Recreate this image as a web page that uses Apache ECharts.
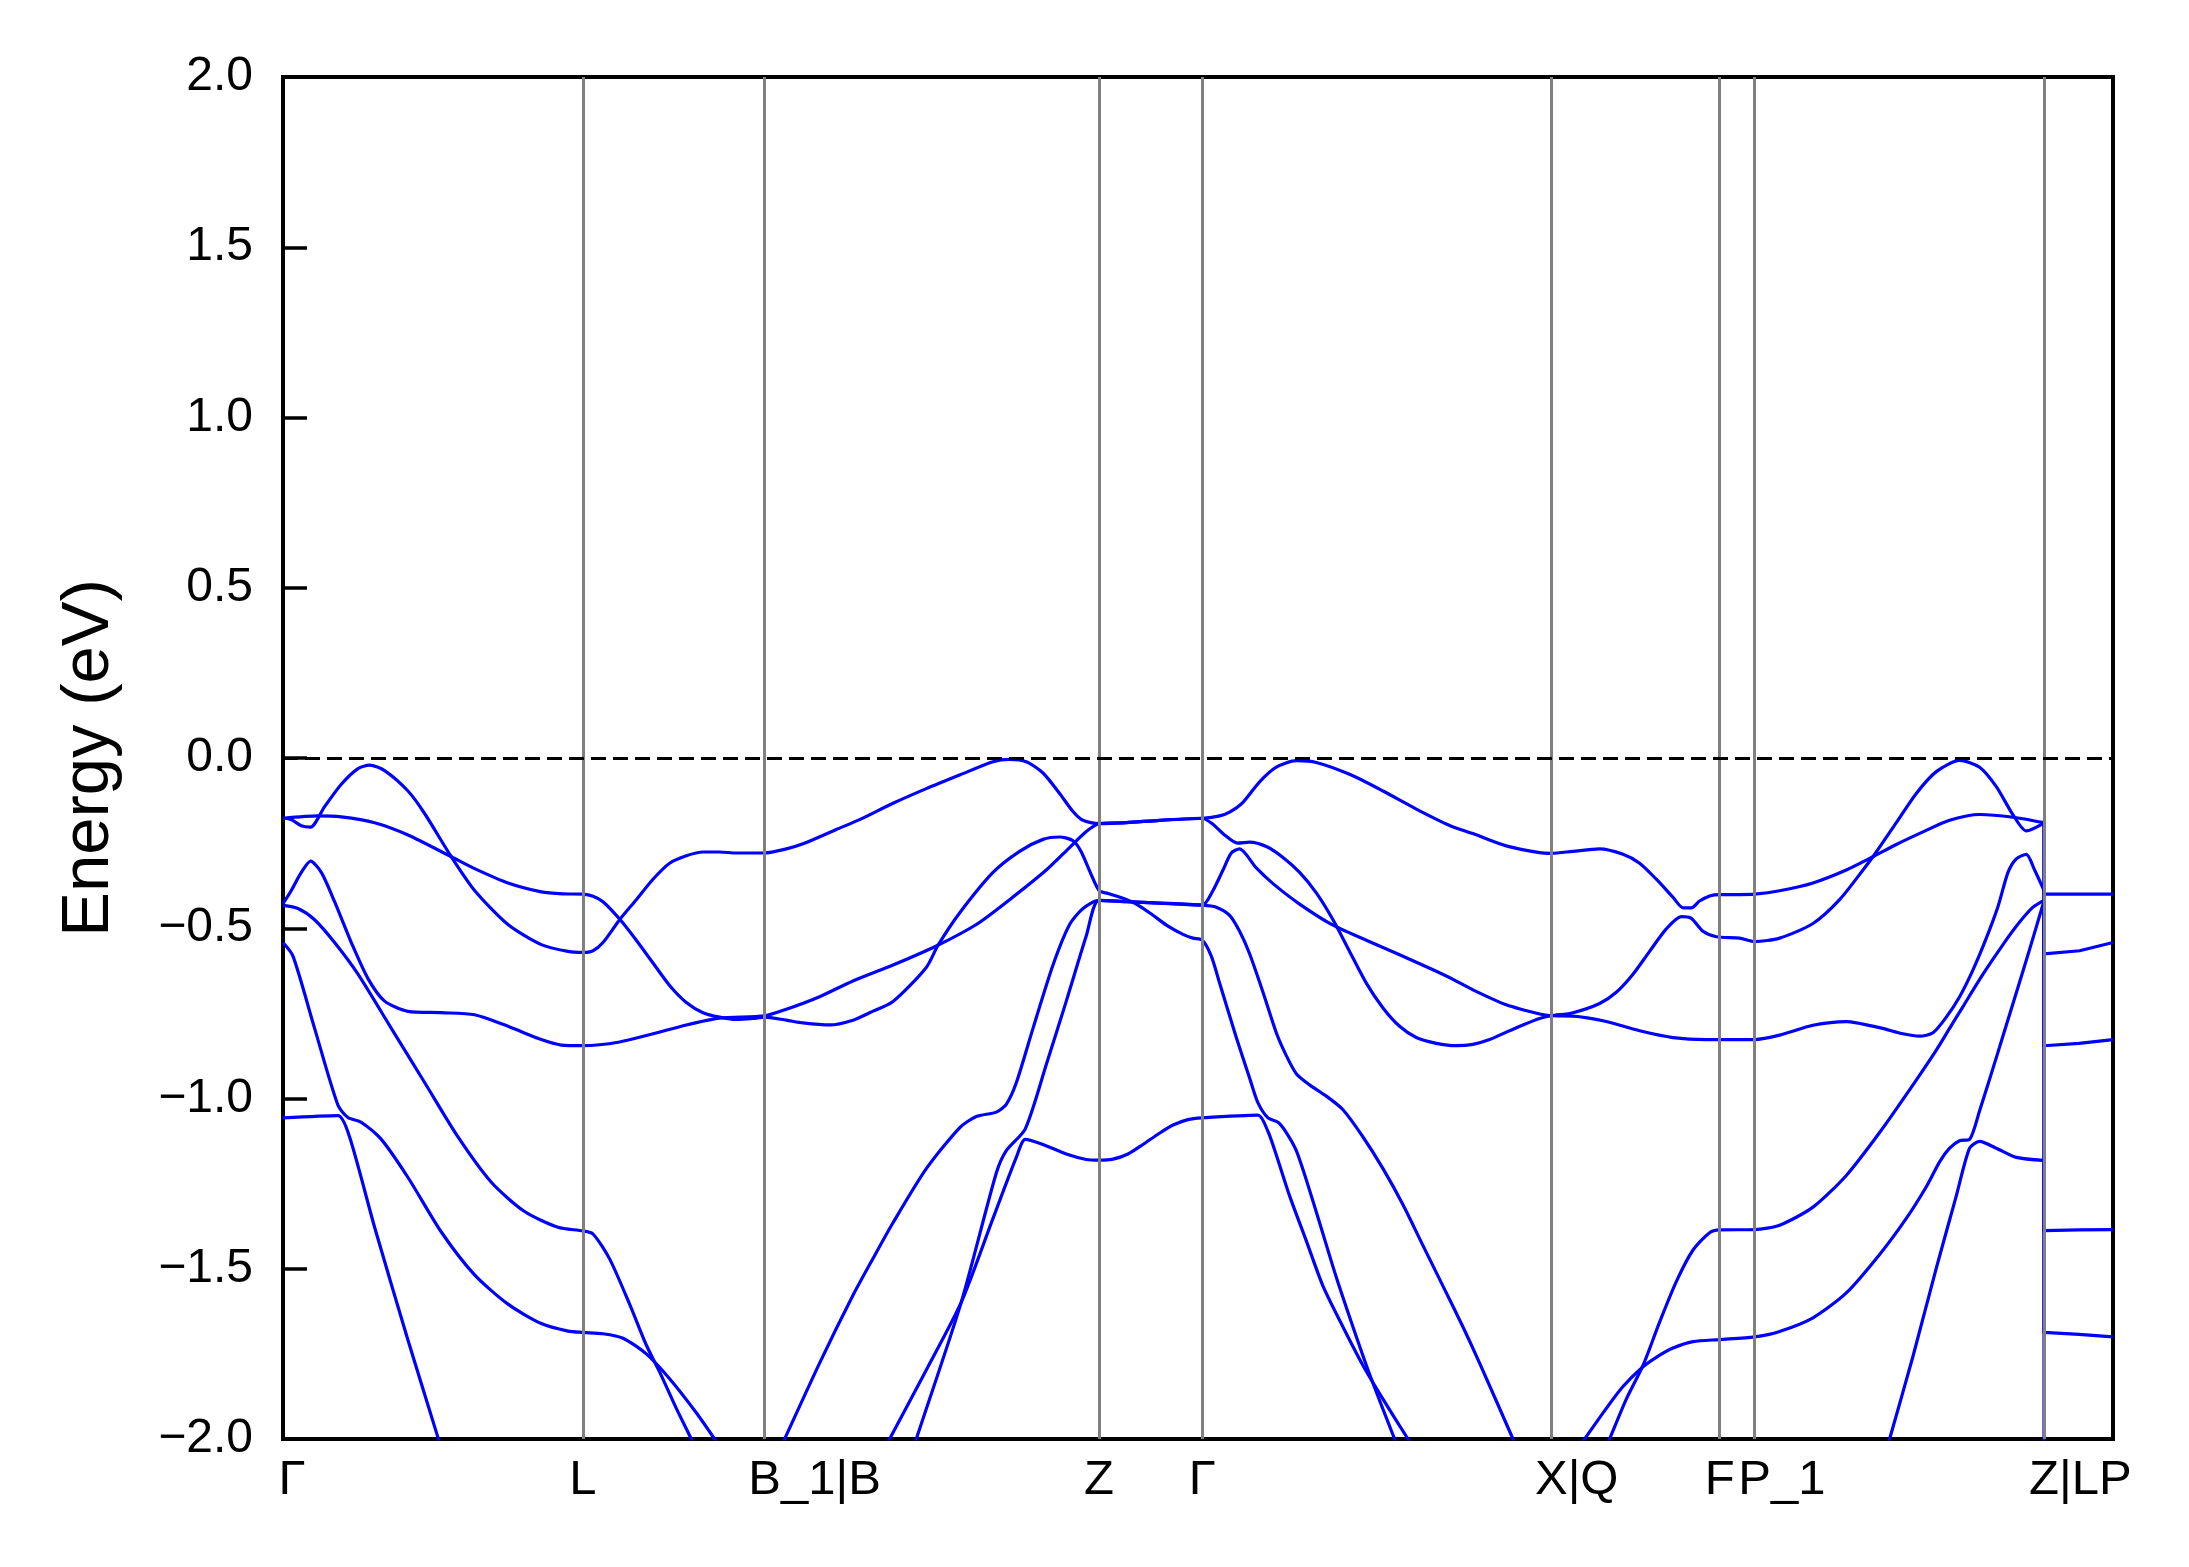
<!DOCTYPE html>
<html><head><meta charset="utf-8">
<script src="https://cdn.jsdelivr.net/npm/echarts@6/dist/echarts.min.js"></script>
<style>html,body{margin:0;padding:0;background:#fff}#c{width:2189px;height:1567px}</style>
</head><body><div id="c"></div><script>
// k-path high-symmetry positions and labels
const kTicks = [0, 300, 481.6, 815.9, 919.3, 1268.3, 1436.6, 1471.6, 1761];
const kLabels = ['Γ', 'L', 'B_1|B', 'Z', 'Γ', 'X|Q', 'F', 'P_1', 'Z|LP'];
const kMax = 1830;
const yTicks = [-2, -1.5, -1, -0.5, 0, 0.5, 1, 1.5, 2];
const fermiLevel = 0;

// bands: [k, E(eV)]
const bandA = [[0,-0.177],[8.3,-0.181],[18.3,-0.199],[27.6,-0.203],[41.6,-0.143],[58.3,-0.077],[75,-0.031],[86.6,-0.021],[101.6,-0.037],[125,-0.097],[141.6,-0.163],[168.3,-0.290],[191.6,-0.389],[225,-0.489],[258.3,-0.548],[285,-0.568],[300,-0.571],
[310,-0.566],[320,-0.542],[336.6,-0.475],[353.3,-0.416],[370,-0.356],[386.6,-0.309],[403.3,-0.287],[420,-0.276],[436.6,-0.276],[453.3,-0.279],[481.6,-0.279],[503.3,-0.267],[520,-0.252],[553.3,-0.210],[576.6,-0.181],[610,-0.133],[643.3,-0.090],[676.6,-0.050],[710,-0.011],[726.6,-0.004],[743.3,-0.011],[760,-0.044],[776.6,-0.104],[790,-0.157],[800,-0.183],[815.9,-0.193],[843.3,-0.190],[876.6,-0.183],[919.3,-0.177],
[936.6,-0.170],[946.6,-0.159],[960,-0.130],[976.6,-0.070],[993.3,-0.027],[1013.3,-0.008],[1033.3,-0.013],[1066.6,-0.048],[1100,-0.097],[1133.3,-0.150],[1166.6,-0.198],[1190,-0.222],[1223.3,-0.258],[1256.6,-0.278],[1268.3,-0.280],[1290,-0.274],[1316.6,-0.267],[1340,-0.283],[1356.6,-0.309],[1373.3,-0.356],[1390,-0.409],[1400,-0.440],[1408.3,-0.440],[1416.6,-0.420],[1426.6,-0.405],[1436.6,-0.401],[1456.6,-0.401],[1471.6,-0.400],
[1496.6,-0.390],[1530,-0.367],[1563.3,-0.329],[1590,-0.290],[1613.3,-0.254],[1640,-0.217],[1666.6,-0.183],[1696.6,-0.166],[1730,-0.174],[1761,-0.190],[1761,-0.400],[1795,-0.400],[1830,-0.400]];

const bandB = [[0,-0.177],[35,-0.170],[58.3,-0.173],[91.6,-0.190],[125,-0.226],[168.3,-0.290],[191.6,-0.325],[225,-0.367],[258.3,-0.393],[280,-0.399],[300,-0.400],
[310,-0.406],[320,-0.422],[336.6,-0.473],[353.3,-0.535],[370,-0.602],[386.6,-0.668],[403.3,-0.718],[420,-0.748],[436.6,-0.761],[453.3,-0.768],[470,-0.765],[481.6,-0.761],[503.3,-0.770],[520,-0.778],[546.6,-0.784],[570,-0.770],[586.6,-0.748],[610,-0.715],[643.3,-0.615],[655,-0.550],[676.6,-0.455],[710,-0.336],[736.6,-0.274],[760,-0.239],[776.6,-0.232],[790,-0.243],[798.3,-0.276],[815.9,-0.389],
[825,-0.398],[840,-0.412],[855,-0.432],[870,-0.462],[885,-0.494],[900,-0.518],[910,-0.529],[919.3,-0.535],
[928.3,-0.582],[936.6,-0.661],[953.3,-0.821],[966.6,-0.940],[975,-1.013],[985,-1.057],[995,-1.070],[1003.3,-1.100],[1013.3,-1.153],[1023.3,-1.239],[1036.6,-1.365],[1053.3,-1.525],[1070,-1.671],[1086.6,-1.810],[1111.6,-2.000],[1116,-2.03]];

const bandC = [[0,-0.428],[8.3,-0.389],[18.3,-0.336],[27.6,-0.303],[38.3,-0.336],[51.6,-0.422],[68.3,-0.542],[85,-0.648],[101.6,-0.714],[125,-0.744],[158.3,-0.748],[191.6,-0.754],[225,-0.788],[258.3,-0.827],[278.3,-0.843],[300,-0.845],
[336.6,-0.834],[370,-0.810],[403.3,-0.784],[436.6,-0.764],[481.6,-0.757],[503.3,-0.738],[536.6,-0.701],[570,-0.655],[610,-0.608],[653.3,-0.552],[693.3,-0.489],[726.6,-0.416],[763.3,-0.329],[786.6,-0.263],[803.3,-0.216],[815.9,-0.193],
[843.3,-0.190],[876.6,-0.183],[919.3,-0.177],[929.6,-0.194],[941.6,-0.226],[954.6,-0.250],[966.6,-0.247],[983.3,-0.260],[1000,-0.292],[1016.6,-0.336],[1033.3,-0.396],[1050,-0.475],[1066.6,-0.568],[1083.3,-0.661],[1100,-0.734],[1116.6,-0.788],[1133.3,-0.821],[1153.3,-0.838],[1173.3,-0.845],[1190,-0.841],[1206.6,-0.827],[1223.3,-0.805],[1240,-0.784],[1256.6,-0.765],[1268.3,-0.757],
[1290,-0.748],[1316.6,-0.721],[1333.3,-0.688],[1350,-0.635],[1366.6,-0.568],[1383.3,-0.502],[1398.3,-0.466],[1408.3,-0.471],[1420,-0.509],[1433.3,-0.525],[1456.6,-0.529],[1471.6,-0.539],
[1496.6,-0.529],[1530,-0.486],[1556.6,-0.416],[1580,-0.329],[1593.3,-0.276],[1613.3,-0.190],[1633.3,-0.104],[1653.3,-0.040],[1676.6,-0.007],[1696.6,-0.027],[1713.3,-0.084],[1730,-0.167],[1743.3,-0.214],[1761,-0.191],[1761,-0.575],[1796.6,-0.566],[1830,-0.542]];

const bandD = [[0,-0.433],[15,-0.442],[31.6,-0.475],[51.6,-0.542],[75,-0.635],[108.3,-0.794],[141.6,-0.953],[175,-1.113],[208.3,-1.246],[241.6,-1.332],[275,-1.378],[300,-1.389],[310,-1.398],[326.6,-1.471],[346.6,-1.604],[363.3,-1.724],[376.6,-1.803],[393.3,-1.910],[408.3,-2.000],[412,-2.03]];

const bandE1 = [[0,-0.542],[10,-0.582],[31.6,-0.794],[55,-1.020],[65,-1.056],[78.3,-1.070],[98.3,-1.120],[125,-1.232],[158.3,-1.392],[191.6,-1.518],[225,-1.604],[258.3,-1.661],[285,-1.683],[300,-1.687],[320,-1.691],[340,-1.704],[363.3,-1.750],[386.6,-1.823],[413.3,-1.923],[431.6,-2.000],[436,-2.02]];

const bandE2 = [[0,-1.057],[55,-1.050],[66.6,-1.113],[91.6,-1.378],[125,-1.710],[155,-1.996],[158,-2.03]];

const bandF = [[498,-2.023],[501.6,-2.000],[536.6,-1.777],[570,-1.578],[590,-1.470],[610,-1.365],[643.3,-1.206],[676.6,-1.086],[693.3,-1.053],[713.3,-1.040],[723.3,-1.017],[733.3,-0.954],[750,-0.794],[770,-0.608],[786.6,-0.489],[800,-0.442],[815.9,-0.418],[843.3,-0.422],[876.6,-0.426],[919.3,-0.432],[933.3,-0.438],[946.6,-0.462],[956.6,-0.509],[966.6,-0.575],[980,-0.688],[993.3,-0.807],[1003.3,-0.874],[1013.3,-0.927],[1026.6,-0.960],[1043.3,-0.993],[1060,-1.033],[1080,-1.113],[1100,-1.206],[1120,-1.312],[1140,-1.432],[1160,-1.551],[1180,-1.671],[1196.6,-1.777],[1230,-2.000],[1234,-2.027]];

const bandG1 = [[630,-2.03],[633.3,-2.000],[678.3,-1.598],[713.3,-1.219],[723.3,-1.153],[742.3,-1.089],[763.3,-0.900],[783.3,-0.714],[803.3,-0.522],[815.9,-0.418],[843.3,-0.422],[876.6,-0.426],[919.3,-0.432],
[930,-0.389],[940,-0.329],[948.3,-0.279],[956.6,-0.267],[973.3,-0.323],[990,-0.369],[1016.6,-0.429],[1050,-0.491],[1083.3,-0.535],[1116.6,-0.578],[1150,-0.622],[1170,-0.650],[1190,-0.681],[1223.3,-0.725],[1256.6,-0.752],[1268.3,-0.757],
[1290,-0.758],[1323.3,-0.774],[1356.6,-0.801],[1390,-0.821],[1423.3,-0.827],[1471.6,-0.827],
[1496.6,-0.814],[1530,-0.785],[1563.3,-0.774],[1596.6,-0.792],[1620,-0.810],[1636.6,-0.817],[1650,-0.807],[1663.3,-0.761],[1676.6,-0.701],[1690,-0.622],[1703.3,-0.529],[1715,-0.436],[1725,-0.336],[1733.3,-0.296],[1743.3,-0.283],[1751.6,-0.329],[1761,-0.389],[1761,-0.845],[1796,-0.838],[1830,-0.827]];

const bandG2 = [[603,-2.02],[606.6,-2.000],[643.3,-1.797],[678.3,-1.598],[710,-1.352],[733.3,-1.173],[742.3,-1.120],[760,-1.135],[783.3,-1.163],[803.3,-1.179],[815.9,-1.181],[830,-1.178],[845,-1.163],[860,-1.135],[875,-1.105],[890,-1.078],[905,-1.062],[919.3,-1.057],[975,-1.049],[985,-1.097],[993.3,-1.166],[1006.6,-1.286],[1023.3,-1.418],[1040,-1.551],[1060,-1.671],[1080,-1.784],[1100,-1.883],[1125,-2.000],[1130,-2.02]];

const bandM1 = [[1298,-2.015],[1301.6,-2.000],[1323.3,-1.910],[1340,-1.846],[1360,-1.788],[1373.3,-1.760],[1390,-1.733],[1410,-1.714],[1436.6,-1.708],[1471.6,-1.700],[1496.6,-1.684],[1530,-1.644],[1563.3,-1.571],[1596.6,-1.458],[1623.3,-1.352],[1643.3,-1.259],[1656.6,-1.186],[1666.6,-1.146],[1676.6,-1.124],[1686.6,-1.120],[1696.6,-1.036],[1713.3,-0.880],[1730,-0.721],[1746.6,-0.562],[1761,-0.420],[1761,-1.388],[1796,-1.386],[1830,-1.385]];

const bandM2 = [[1323,-2.025],[1326.6,-2.000],[1343.3,-1.883],[1360,-1.784],[1376.6,-1.657],[1393.3,-1.538],[1410,-1.445],[1426.6,-1.394],[1436.6,-1.386],[1471.6,-1.385],[1496.6,-1.372],[1530,-1.319],[1563.3,-1.226],[1596.6,-1.100],[1630,-0.960],[1653.3,-0.858],[1666.6,-0.794],[1680,-0.730],[1700,-0.635],[1720,-0.548],[1736.6,-0.482],[1750,-0.438],[1761,-0.418],[1761,-1.687],[1796,-1.693],[1830,-1.700]];

const bandS = [[1603,-2.037],[1606.6,-2.000],[1630,-1.757],[1653.3,-1.498],[1673.3,-1.286],[1686.6,-1.146],[1696.6,-1.126],[1713.3,-1.146],[1733.3,-1.173],[1761,-1.182],[1761,-2.1]];

const bands = {bandA, bandB, bandC, bandD, bandE1, bandE2, bandF, bandG1, bandG2, bandM1, bandM2, bandS};

const FONT = '"Liberation Sans", Arial, Helvetica, sans-serif';
const XTICK_FS = 49;
const YTICK_FS = 48;

// spacer widths so that the first character of each label sits on its tick
const cvs = document.createElement('canvas').getContext('2d');
cvs.font = XTICK_FS + 'px ' + FONT;
const rich = {};
kLabels.forEach((lab, i) => {
  let w = cvs.measureText(lab).width - cvs.measureText(lab[0]).width;
  if (i === 0) w = 18; // first label sits just inside the frame
  rich['s' + i] = {width: Math.max(0, w), fontSize: XTICK_FS, fontFamily: FONT};
});

const chart = echarts.init(document.getElementById('c'), null, {renderer: 'canvas'});

const lineStyle = {color: '#0000ff', width: 3.2, join: 'round'};
const series = [];
Object.keys(bands).forEach(name => {
  const arr = bands[name];
  // split at the Z|L path discontinuity: smooth band part, straight jump part
  let j = arr.findIndex((p, i) => i > 0 && p[0] === arr[i - 1][0]);
  const main = j > 0 ? arr.slice(0, j) : arr;
  const jump = j > 0 ? arr.slice(j - 1) : null;
  series.push({name, type: 'line', data: main, showSymbol: false, symbol: 'none', smooth: 0.25,
    lineStyle, z: 3, silent: true, animation: false, clip: true});
  if (jump) series.push({name: name + '_jump', type: 'line', data: jump, showSymbol: false, symbol: 'none', smooth: false,
    lineStyle, z: 3, silent: true, animation: false, clip: true});
});

series.unshift({
  type: 'line', data: [], z: 1, silent: true, animation: false,
  markLine: {
    silent: true, symbol: ['none', 'none'], animation: false,
    label: {show: false},
    data: kTicks.slice(1).map(v => ({xAxis: v, lineStyle: {color: '#808080', width: 3, type: 'solid'}}))
      .concat([{yAxis: fermiLevel, lineStyle: {color: '#000000', width: 3, type: [15, 7]}}])
  }
});

chart.setOption({
  backgroundColor: '#ffffff',
  animation: false,
  grid: {left: 283, right: 76, top: 77, bottom: 128, show: true, borderColor: '#000', borderWidth: 4,
         backgroundColor: 'transparent', containLabel: false, outerBoundsMode: 'none'},
  xAxis: {
    type: 'value', min: 0, max: kMax,
    axisLine: {show: false}, axisTick: {show: false}, splitLine: {show: false},
    axisLabel: {
      customValues: kTicks, showMinLabel: true, showMaxLabel: true,
      fontSize: XTICK_FS, fontFamily: FONT, color: '#000', margin: 17,
      rich,
      formatter: (v) => {
        let idx = 0, best = Infinity;
        kTicks.forEach((t, i) => { const d = Math.abs(t - v); if (d < best) { best = d; idx = i; } });
        const lab = kLabels[idx];
        return (rich['s' + idx].width > 0 ? '{s' + idx + '| }' : '') + lab;
      }
    }
  },
  yAxis: {
    type: 'value', min: yTicks[0], max: yTicks[yTicks.length - 1], interval: yTicks[1] - yTicks[0],
    name: 'Energy (eV)', nameLocation: 'middle', nameGap: 160, nameRotate: 90,
    nameTextStyle: {fontSize: 67, fontFamily: FONT, color: '#000'},
    axisLine: {show: false},
    axisTick: {show: true, inside: true, length: 24, lineStyle: {color: '#000', width: 3.5}},
    splitLine: {show: false},
    axisLabel: {
      fontSize: YTICK_FS, fontFamily: FONT, color: '#000', margin: 30,
      formatter: v => (v < 0 ? '\u2212' : '') + Math.abs(v).toFixed(1)
    }
  },
  series
});
</script></body></html>
